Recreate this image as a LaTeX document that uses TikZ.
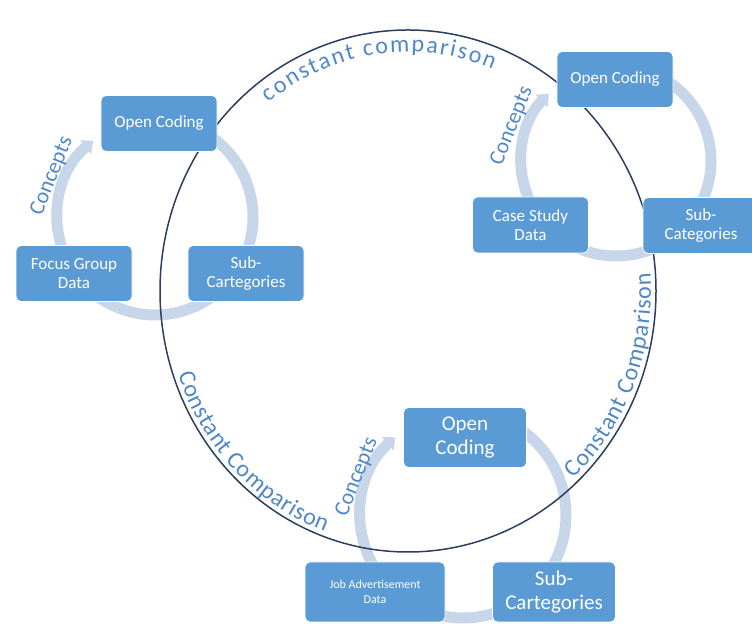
\documentclass[tikz,border=0pt]{standalone}
\usepackage{fontspec}
\setmainfont{Carlito}
\usepackage{xcolor}
\usetikzlibrary{calc, arrows.meta, decorations.text}
\definecolor{boxblue}{RGB}{91,155,213}
\definecolor{ringblue}{RGB}{200,214,234}
\definecolor{linenavy}{RGB}{44,62,96}
\definecolor{labelblue}{RGB}{79,135,200}

\begin{document}
\begin{tikzpicture}[
        x=1pt, y=1pt,
        % Style for the coding boxes
        codeBox/.style={
            rectangle,
            draw=white,
            line width=0.8pt,
            rounded corners=5pt,
            minimum width=116pt,
            minimum height=56pt,
            inner sep=1pt,
            align=center,
            fill=boxblue,
            text=white,
            font=\fontsize{17}{19}\selectfont
        },
        % Larger boxes of the bottom cycle
        bigBox/.style={
            codeBox,
            minimum width=123pt,
            minimum height=60pt,
            font=\fontsize{21}{24}\selectfont
        },
        % Style for the light cycle arcs
        ringArc/.style={
            line width=11pt,
            draw=ringblue
        },
        conceptArrow/.style={
            ringArc,
            -{Triangle[length=10pt, width=17pt]}
        },
        conceptLabel/.style={
            text=labelblue,
            rotate=68,
            font=\fontsize{22}{25}\selectfont
        },
        % Style for the comparison circle
        compLine/.style={
            draw=linenavy,
            line width=1.5pt
        },
        compText/.style={
            decorate,
            decoration={
                text along path,
                text align={fit to path},
                text color=labelblue,
                text={|\fontsize{24}{28}\selectfont|#1}
            }
        }
    ]

    \useasboundingbox (0,0) rectangle (752,626);

    % Centres
    \coordinate (ell) at (408,335);
    \coordinate (ringA) at (155,409);
    \coordinate (ringB) at (616,465);
    \coordinate (ringC) at (463,111);

    % Cycle arcs, behind the boxes
    \draw[conceptArrow] ($(ringA)+(205:98)$) arc[start angle=205, end angle=129, radius=98];
    \draw[ringArc] ($(ringA)+(60:98)$) arc[start angle=60, end angle=-25, radius=98];
    \draw[ringArc] ($(ringA)+(305:98)$) arc[start angle=305, end angle=235, radius=98];

    \draw[conceptArrow] ($(ringB)+(205:95)$) arc[start angle=205, end angle=135, radius=95];
    \draw[ringArc] ($(ringB)+(60:95)$) arc[start angle=60, end angle=-25, radius=95];
    \draw[ringArc] ($(ringB)+(305:95)$) arc[start angle=305, end angle=235, radius=95];

    \draw[conceptArrow] ($(ringC)+(210:103)$) arc[start angle=210, end angle=131, radius=103];
    \draw[ringArc] ($(ringC)+(60:103)$) arc[start angle=60, end angle=-35, radius=103];
    \draw[ringArc] ($(ringC)+(300:103)$) arc[start angle=300, end angle=240, radius=103];

    % Comparison circle and its labels
    \draw[compLine] (ell) ellipse[x radius=248, y radius=261];
    \path[compText={constant comparison}] ($(ell)+(128:226 and 239)$) arc[start angle=128, end angle=68, x radius=226, y radius=239];
    \path[compText={Constant Comparison}] ($(ell)+(199:243 and 256)$) arc[start angle=199, end angle=250, x radius=243, y radius=256];
    \path[compText={Constant Comparison}] ($(ell)+(-47:243 and 256)$) arc[start angle=-47, end angle=4, x radius=243, y radius=256];

    % Cycle A (focus group)
    \node[codeBox] (openA) at (159,502.5) {Open Coding};
    \node[codeBox] (focusA) at (74,352.5) {Focus Group\\Data};
    \node[codeBox] (subA) at (246,352.5) {Sub-\\Cartegories};
    \node[conceptLabel] (conceptA) at (52,450) {Concepts};

    % Cycle B (case study)
    \node[codeBox] (openB) at (615,546.5) {Open Coding};
    \node[codeBox] (caseB) at (530.5,401) {Case Study\\Data};
    \node[codeBox] (subB) at (701,400.5) {Sub-\\Categories};
    \node[conceptLabel] (conceptB) at (512,500) {Concepts};

    % Cycle C (job advertisements)
    \node[bigBox] (openC) at (465,188.5) {Open\\Coding};
    \node[codeBox, minimum width=140pt, minimum height=60pt, font=\fontsize{12}{15}\selectfont] (jobC) at (375,34) {Job Advertisement\\Data};
    \node[bigBox] (subC) at (554,34) {Sub-\\Cartegories};
    \node[conceptLabel] (conceptC) at (357,149) {Concepts};

\end{tikzpicture}
\end{document}
